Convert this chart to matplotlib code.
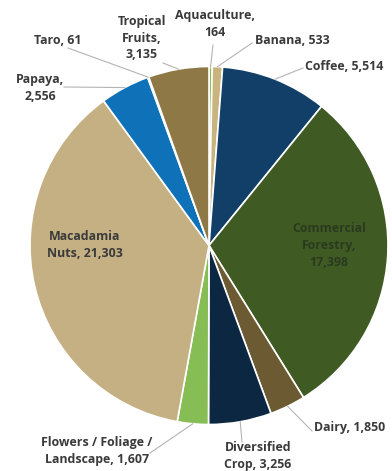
import numpy as np
import matplotlib.pyplot as plt

# Farm value by commodity
categories = ["Aquaculture", "Banana", "Coffee", "Commercial Forestry", "Dairy",
              "Diversified Crop", "Flowers / Foliage / Landscape", "Macadamia Nuts",
              "Papaya", "Taro", "Tropical Fruits"]
values = [164, 533, 5514, 17398, 1850, 3256, 1607, 21303, 2556, 61, 3135]
labels = ["Aquaculture,\n164", "Banana, 533", "Coffee, 5,514", "Commercial\nForestry,\n17,398",
          "Dairy, 1,850", "Diversified\nCrop, 3,256", "Flowers / Foliage /\nLandscape, 1,607",
          "Macadamia\nNuts, 21,303", "Papaya,\n2,556", "Taro, 61", "Tropical\nFruits,\n3,135"]
colors = ["#86be4f", "#c9b37f", "#113f68", "#3f5b23", "#6b5a32", "#0c2742",
          "#86bd55", "#c5b083", "#0f72b8", "#9a9a9a", "#8e7846"]

# label placement in pixels: text x, text y, ha, leader end (or None)
W, H = 392, 471
CX, CY, R = 209, 245.5, 179
label_pos = [
    (215, 24, "center", (213, 45)),
    (255, 40, "left", (252, 43)),
    (305, 66, "left", (303, 68)),
    (329, 245, "center", None),
    (314, 428, "left", (312, 431)),
    (258, 456, "center", (242, 442)),
    (97, 451, "center", (150, 453)),
    (85, 245, "center", None),
    (40, 88, "center", (64, 87)),
    (58, 40, "center", (68, 48)),
    (142, 38, "center", (163, 63)),
]

def px(x, y):
    return (x - CX) / R, (CY - y) / R

fig = plt.figure(figsize=(W / 100, H / 100), dpi=100)
ax = fig.add_axes([0, 0, 1, 1])
ax.axis("off")

wedges, _ = ax.pie(values, colors=colors, startangle=90, counterclock=False, radius=1,
                   wedgeprops=dict(edgecolor="white", linewidth=1.2))
ax.set_xlim(-CX / R, (W - CX) / R)
ax.set_ylim((CY - H) / R, CY / R)

for w, lab, (tx, ty, ha, end) in zip(wedges, labels, label_pos):
    color = "#2b3a1e" if lab.startswith("Commercial") else "#3a3a3a"
    x, y = px(tx, ty)
    ax.text(x, y, lab, ha=ha, va="center", fontsize=8.9, fontweight="bold",
            family="Open Sans", color=color, linespacing=1.4)
    if end is not None:
        mid = np.deg2rad((w.theta1 + w.theta2) / 2)
        ex, ey = px(*end)
        ax.plot([np.cos(mid), ex], [np.sin(mid), ey], color="#b4b4b4", lw=0.8, clip_on=False)

fig.savefig("out.png", dpi=100)
